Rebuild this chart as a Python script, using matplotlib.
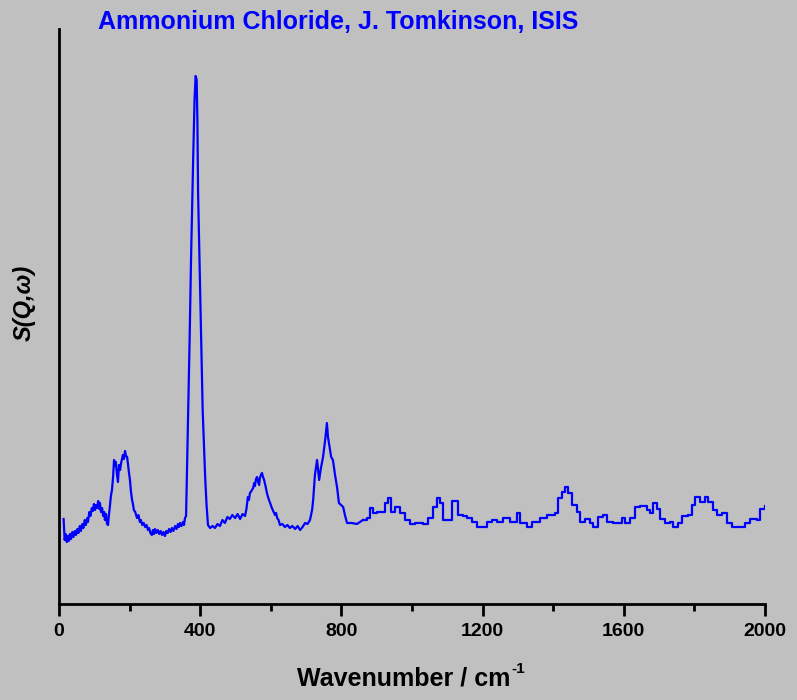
import matplotlib
matplotlib.use("Agg")
import matplotlib.pyplot as plt
from matplotlib.ticker import MultipleLocator

# =====================================================
# SPECTRUM DATA
# =====================================================

wavenumber = [
    13, 16, 19, 22, 25, 28, 31, 34, 38, 41, 45, 48, 52, 55, 59, 62,
    66, 69, 73, 76, 80, 82, 86, 89, 93, 96, 99, 102, 105, 108, 111, 114,
    116, 119, 122, 125, 128, 130, 133, 136, 139, 141, 144, 147, 150, 153,
    156, 158, 161, 164, 167, 170, 173, 176, 179, 181, 184, 187, 190, 193,
    195, 198, 201, 204, 207, 210, 212, 216, 221, 225, 229, 232, 236, 240,
    244, 248, 252, 255, 259, 263, 266, 269, 272, 276, 280, 284, 288, 292,
    296, 300, 304, 308, 312, 316, 320, 324, 329, 333, 337, 340, 343, 347,
    351, 354, 357, 360,
    365, 370, 374, 380, 384, 387, 390, 392, 394, 401, 407, 414, 418, 422,
    428, 435, 442, 449, 456, 463, 470, 477, 484, 491, 499, 506, 513, 520,
    527, 531, 535, 538, 541, 545, 550, 553, 555, 558, 561, 564, 567, 569,
    572, 575, 578, 581, 585, 589, 593, 598, 603, 607, 612, 615, 618, 622,
    626, 633, 640, 647, 654, 661, 669, 676, 683, 690, 697, 704, 711, 714,
    717, 720, 725, 731, 737, 742, 748, 754, 759, 762, 768, 771, 776, 782,
    788, 793, 799, 805, 810, 816, 830, 844,
    861, 873, 881, 890, 901, 909,
    924, 932, 941, 952, 966, 980, 994, 1008, 1023, 1031, 1045, 1060, 1071,
    1079, 1088, 1099, 1113, 1122, 1130, 1145, 1156, 1170, 1184, 1198, 1213,
    1227, 1241, 1258, 1278, 1298, 1306, 1326, 1340, 1363, 1383, 1405, 1414,
    1425, 1434, 1442, 1453, 1468, 1476, 1490, 1504, 1513, 1527, 1541, 1552,
    1569, 1584, 1595, 1603, 1618, 1632, 1646, 1666, 1674, 1683, 1694, 1703,
    1717, 1731, 1739, 1754, 1765, 1782, 1793, 1802, 1816, 1830, 1839, 1853,
    1864, 1878, 1892, 1907, 1924, 1943, 1958, 1977, 1986, 2000,
]

intensity = [
    85, 64, 70, 62, 68, 63, 70, 65, 72, 67, 73, 69, 75, 71, 78, 73,
    80, 76, 84, 79, 86, 82, 92, 88, 96, 93, 100, 94, 99, 96, 103, 95,
    101, 92, 96, 88, 92, 84, 90, 80, 79, 88, 97, 108, 114, 126,
    144, 138, 142, 130, 122, 139, 134, 141, 146, 149, 145, 153, 148, 147,
    141, 132, 124, 112, 104, 99, 94, 92, 86, 89, 82, 84, 79, 81,
    77, 79, 74, 76, 71, 69, 74, 70, 75, 71, 74, 70, 73, 69,
    72, 68, 73, 71, 75, 72, 76, 73, 78, 75, 80, 77, 81, 78,
    82, 79, 86, 88,
    177, 264, 344, 444, 504, 528, 524, 484, 411, 294, 194, 127, 99, 79,
    76, 78, 76, 80, 78, 84, 81, 87, 85, 89, 86, 90, 85, 90,
    88, 95, 107, 104, 111, 113, 116, 121, 118, 125, 127, 122, 119, 126,
    129, 131, 127, 124, 118, 111, 106, 101, 96, 93, 89, 91, 86, 84,
    79, 80, 77, 79, 76, 78, 75, 78, 74, 77, 81, 80, 84, 89,
    94, 104, 129, 144, 124, 136, 147, 164, 181, 167, 154, 147, 144, 129,
    116, 101, 99, 97, 89, 81, 81, 80,
    84, 86, 96, 91, 92, 92,
    101, 106, 92, 97, 91, 84, 80, 81, 81, 80, 86, 97, 106,
    101, 84, 84, 103, 103, 89, 88, 86, 82, 77, 77, 82,
    84, 82, 86, 82, 91, 81, 77, 82, 86, 89, 91, 106,
    112, 117, 111, 99, 92, 82, 85, 81, 77, 87, 89, 82,
    81, 81, 86, 81, 86, 97, 98, 94, 91, 101, 95, 85,
    81, 82, 77, 81, 88, 89, 99, 107, 102, 107, 102, 94,
    89, 91, 81, 77, 77, 81, 85, 84, 95, 98,
]

x_ticks = [0, 400, 800, 1200, 1600, 2000]

# above this wavenumber the binned data show as steps
step_start = 861

# =====================================================
# FIGURE
# =====================================================

bg = "#c0c0c0"
blue = "#0000ff"
plt.rcParams["font.family"] = ["Liberation Sans", "DejaVu Sans"]

fig = plt.figure(figsize=(7.97, 7.0), dpi=100, facecolor=bg)
ax = fig.add_axes([59 / 797, 96 / 700, 706 / 797, 575 / 700])
ax.set_facecolor(bg)

split = wavenumber.index(step_start)

ax.plot(
    wavenumber[:split + 1],
    intensity[:split + 1],
    color=blue,
    linewidth=1.6
)

ax.plot(
    wavenumber[split:],
    intensity[split:],
    color=blue,
    linewidth=1.6,
    drawstyle="steps-post"
)

ax.set_xlim(0, 2000)
ax.set_ylim(0, 575)

for side in ["top", "right"]:
    ax.spines[side].set_visible(False)
for side in ["left", "bottom"]:
    ax.spines[side].set_linewidth(2)
    ax.spines[side].set_color("black")

ax.set_xticks(x_ticks)
ax.xaxis.set_minor_locator(MultipleLocator(200))
ax.tick_params(axis="x", which="major", direction="out", length=8.5,
               width=2, labelsize=14, pad=5)
ax.tick_params(axis="x", which="minor", direction="out", length=5, width=2)
ax.set_yticks([])
for lab in ax.get_xticklabels():
    lab.set_fontweight("bold")

# x label with a small raised -1
fig.text(404 / 797, 1 - 678 / 700, "Wavenumber / cm", fontsize=18,
         fontweight="bold", ha="center", va="center")
fig.text(511 / 797, 1 - 669 / 700, "-1", fontsize=11,
         fontweight="bold", ha="left", va="center")

fig.text(24 / 797, 1 - 303 / 700, "S(Q,\u03c9)", fontsize=17,
         fontweight="bold", fontstyle="italic", rotation=90,
         ha="center", va="center")

fig.text(338 / 797, 1 - 22 / 700, "Ammonium Chloride, J. Tomkinson, ISIS",
         color=blue, fontsize=18, fontweight="bold",
         ha="center", va="center")

fig.savefig("out.png", dpi=100, facecolor=bg)
